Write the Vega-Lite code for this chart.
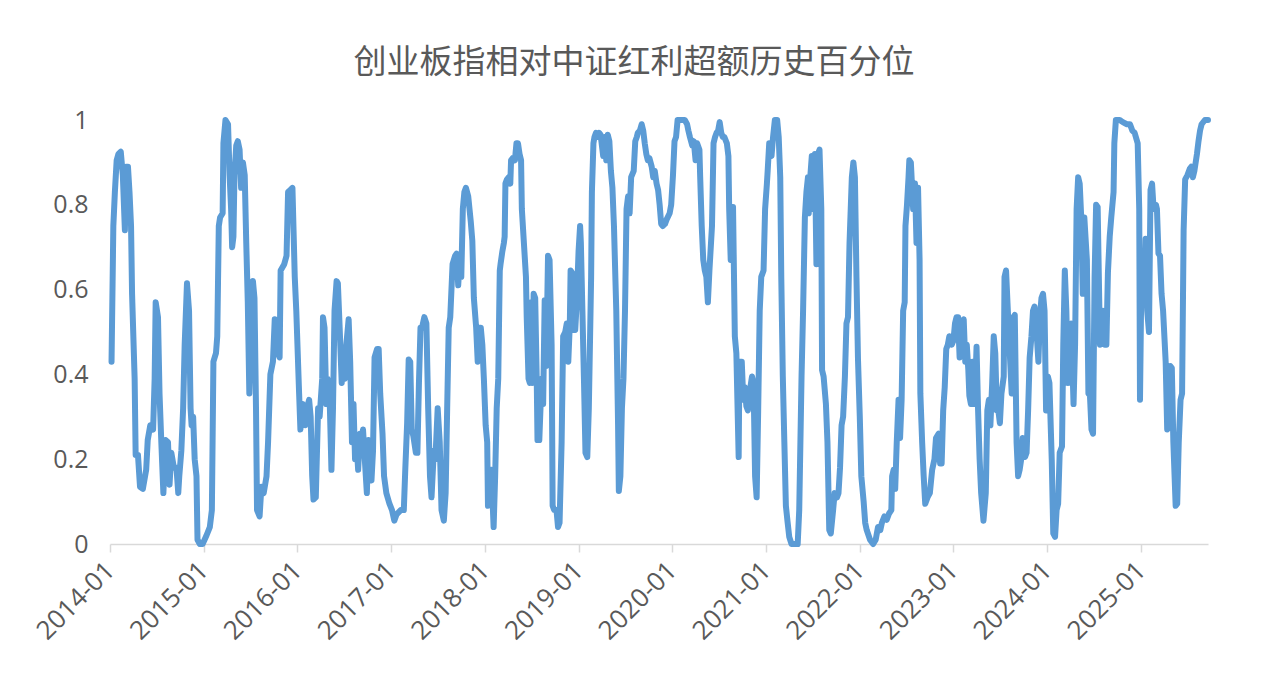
{
  "$schema": "https://vega.github.io/schema/vega-lite/v6.json",
  "width": 1098,
  "height": 424,
  "autosize": "none",
  "padding": {"left": 110, "top": 120, "right": 60, "bottom": 142},
  "background": "white",
  "config": {"view": {"stroke": null}},
  "title": {
    "text": "创业板指相对中证红利超额历史百分位",
    "font": "Noto Sans CJK SC",
    "fontSize": 33,
    "fontWeight": "normal",
    "color": "#595959",
    "anchor": "middle",
    "dx": -25,
    "offset": 28
  },
  "data": {
    "values": [
      {"date": "2014-01-07", "value": 0.43}, {"date": "2014-01-14", "value": 0.75}, {"date": "2014-01-20", "value": 0.83}, {"date": "2014-01-27", "value": 0.905},
      {"date": "2014-02-03", "value": 0.92}, {"date": "2014-02-12", "value": 0.925}, {"date": "2014-02-20", "value": 0.87}, {"date": "2014-02-28", "value": 0.74},
      {"date": "2014-03-05", "value": 0.89}, {"date": "2014-03-12", "value": 0.89}, {"date": "2014-03-18", "value": 0.83}, {"date": "2014-03-24", "value": 0.75},
      {"date": "2014-03-28", "value": 0.59}, {"date": "2014-04-07", "value": 0.39}, {"date": "2014-04-11", "value": 0.21}, {"date": "2014-04-20", "value": 0.21},
      {"date": "2014-04-28", "value": 0.135}, {"date": "2014-05-09", "value": 0.13}, {"date": "2014-05-22", "value": 0.175}, {"date": "2014-05-28", "value": 0.245},
      {"date": "2014-06-07", "value": 0.28}, {"date": "2014-06-18", "value": 0.27}, {"date": "2014-06-24", "value": 0.39}, {"date": "2014-06-28", "value": 0.57},
      {"date": "2014-07-07", "value": 0.535}, {"date": "2014-07-13", "value": 0.355}, {"date": "2014-07-20", "value": 0.24}, {"date": "2014-07-28", "value": 0.12},
      {"date": "2014-08-06", "value": 0.245}, {"date": "2014-08-15", "value": 0.24}, {"date": "2014-08-21", "value": 0.14}, {"date": "2014-08-28", "value": 0.215},
      {"date": "2014-09-07", "value": 0.18}, {"date": "2014-09-17", "value": 0.18}, {"date": "2014-09-24", "value": 0.12}, {"date": "2014-09-28", "value": 0.16},
      {"date": "2014-10-06", "value": 0.22}, {"date": "2014-10-13", "value": 0.32}, {"date": "2014-10-19", "value": 0.47}, {"date": "2014-10-28", "value": 0.615},
      {"date": "2014-11-05", "value": 0.55}, {"date": "2014-11-11", "value": 0.32}, {"date": "2014-11-15", "value": 0.28}, {"date": "2014-11-21", "value": 0.30},
      {"date": "2014-11-27", "value": 0.20}, {"date": "2014-12-04", "value": 0.16}, {"date": "2014-12-08", "value": 0.01}, {"date": "2014-12-17", "value": 0},
      {"date": "2014-12-28", "value": 0}, {"date": "2015-01-12", "value": 0.02}, {"date": "2015-01-25", "value": 0.04}, {"date": "2015-02-02", "value": 0.08},
      {"date": "2015-02-08", "value": 0.43}, {"date": "2015-02-18", "value": 0.45}, {"date": "2015-02-23", "value": 0.49}, {"date": "2015-03-01", "value": 0.75},
      {"date": "2015-03-06", "value": 0.77}, {"date": "2015-03-16", "value": 0.78}, {"date": "2015-03-19", "value": 0.945}, {"date": "2015-03-27", "value": 1.0},
      {"date": "2015-04-06", "value": 0.99}, {"date": "2015-04-12", "value": 0.87}, {"date": "2015-04-18", "value": 0.79}, {"date": "2015-04-22", "value": 0.70},
      {"date": "2015-04-27", "value": 0.725}, {"date": "2015-05-01", "value": 0.87}, {"date": "2015-05-08", "value": 0.94}, {"date": "2015-05-14", "value": 0.95},
      {"date": "2015-05-21", "value": 0.93}, {"date": "2015-05-27", "value": 0.84}, {"date": "2015-06-03", "value": 0.90}, {"date": "2015-06-10", "value": 0.87},
      {"date": "2015-06-16", "value": 0.71}, {"date": "2015-06-22", "value": 0.57}, {"date": "2015-06-28", "value": 0.355}, {"date": "2015-07-05", "value": 0.51},
      {"date": "2015-07-12", "value": 0.62}, {"date": "2015-07-18", "value": 0.58}, {"date": "2015-07-24", "value": 0.32}, {"date": "2015-07-28", "value": 0.08},
      {"date": "2015-08-07", "value": 0.065}, {"date": "2015-08-14", "value": 0.135}, {"date": "2015-08-23", "value": 0.12}, {"date": "2015-09-03", "value": 0.16},
      {"date": "2015-09-09", "value": 0.24}, {"date": "2015-09-18", "value": 0.40}, {"date": "2015-09-28", "value": 0.43}, {"date": "2015-10-05", "value": 0.53},
      {"date": "2015-10-11", "value": 0.46}, {"date": "2015-10-24", "value": 0.44}, {"date": "2015-10-28", "value": 0.645}, {"date": "2015-11-11", "value": 0.66},
      {"date": "2015-11-20", "value": 0.68}, {"date": "2015-11-26", "value": 0.83}, {"date": "2015-12-05", "value": 0.835}, {"date": "2015-12-13", "value": 0.84},
      {"date": "2015-12-22", "value": 0.63}, {"date": "2015-12-28", "value": 0.55}, {"date": "2016-01-08", "value": 0.355}, {"date": "2016-01-13", "value": 0.27},
      {"date": "2016-01-22", "value": 0.33}, {"date": "2016-02-01", "value": 0.28}, {"date": "2016-02-07", "value": 0.32}, {"date": "2016-02-16", "value": 0.34},
      {"date": "2016-02-22", "value": 0.30}, {"date": "2016-02-28", "value": 0.16}, {"date": "2016-03-04", "value": 0.105}, {"date": "2016-03-13", "value": 0.11},
      {"date": "2016-03-22", "value": 0.32}, {"date": "2016-03-28", "value": 0.30}, {"date": "2016-04-07", "value": 0.39}, {"date": "2016-04-10", "value": 0.535},
      {"date": "2016-04-16", "value": 0.51}, {"date": "2016-04-23", "value": 0.33}, {"date": "2016-04-28", "value": 0.39}, {"date": "2016-05-07", "value": 0.32},
      {"date": "2016-05-13", "value": 0.175}, {"date": "2016-05-19", "value": 0.32}, {"date": "2016-05-25", "value": 0.55}, {"date": "2016-06-02", "value": 0.62},
      {"date": "2016-06-07", "value": 0.615}, {"date": "2016-06-14", "value": 0.51}, {"date": "2016-06-22", "value": 0.38}, {"date": "2016-06-28", "value": 0.46},
      {"date": "2016-07-04", "value": 0.39}, {"date": "2016-07-10", "value": 0.47}, {"date": "2016-07-19", "value": 0.53}, {"date": "2016-07-25", "value": 0.43},
      {"date": "2016-08-01", "value": 0.24}, {"date": "2016-08-07", "value": 0.33}, {"date": "2016-08-13", "value": 0.20}, {"date": "2016-08-19", "value": 0.24},
      {"date": "2016-08-25", "value": 0.175}, {"date": "2016-09-01", "value": 0.26}, {"date": "2016-09-07", "value": 0.24}, {"date": "2016-09-13", "value": 0.27},
      {"date": "2016-09-20", "value": 0.20}, {"date": "2016-09-28", "value": 0.12}, {"date": "2016-10-04", "value": 0.245}, {"date": "2016-10-10", "value": 0.24},
      {"date": "2016-10-16", "value": 0.15}, {"date": "2016-10-22", "value": 0.22}, {"date": "2016-10-28", "value": 0.44}, {"date": "2016-11-07", "value": 0.46},
      {"date": "2016-11-13", "value": 0.46}, {"date": "2016-11-19", "value": 0.355}, {"date": "2016-11-28", "value": 0.26}, {"date": "2016-12-04", "value": 0.16},
      {"date": "2016-12-13", "value": 0.12}, {"date": "2016-12-25", "value": 0.095}, {"date": "2017-01-04", "value": 0.08}, {"date": "2017-01-13", "value": 0.055},
      {"date": "2017-01-22", "value": 0.07}, {"date": "2017-02-07", "value": 0.08}, {"date": "2017-02-19", "value": 0.08}, {"date": "2017-02-25", "value": 0.18},
      {"date": "2017-03-04", "value": 0.285}, {"date": "2017-03-10", "value": 0.435}, {"date": "2017-03-16", "value": 0.43}, {"date": "2017-03-22", "value": 0.27},
      {"date": "2017-03-28", "value": 0.255}, {"date": "2017-04-07", "value": 0.215}, {"date": "2017-04-13", "value": 0.215}, {"date": "2017-04-19", "value": 0.38},
      {"date": "2017-04-25", "value": 0.51}, {"date": "2017-05-01", "value": 0.51}, {"date": "2017-05-10", "value": 0.535}, {"date": "2017-05-18", "value": 0.52},
      {"date": "2017-05-25", "value": 0.32}, {"date": "2017-06-01", "value": 0.16}, {"date": "2017-06-07", "value": 0.11}, {"date": "2017-06-16", "value": 0.22},
      {"date": "2017-06-22", "value": 0.20}, {"date": "2017-07-01", "value": 0.32}, {"date": "2017-07-09", "value": 0.24}, {"date": "2017-07-16", "value": 0.08},
      {"date": "2017-07-25", "value": 0.055}, {"date": "2017-08-01", "value": 0.12}, {"date": "2017-08-07", "value": 0.32}, {"date": "2017-08-13", "value": 0.51},
      {"date": "2017-08-19", "value": 0.535}, {"date": "2017-08-28", "value": 0.66}, {"date": "2017-09-07", "value": 0.68}, {"date": "2017-09-13", "value": 0.685},
      {"date": "2017-09-19", "value": 0.61}, {"date": "2017-09-25", "value": 0.67}, {"date": "2017-10-01", "value": 0.63}, {"date": "2017-10-07", "value": 0.79},
      {"date": "2017-10-13", "value": 0.83}, {"date": "2017-10-19", "value": 0.84}, {"date": "2017-10-28", "value": 0.82}, {"date": "2017-11-07", "value": 0.76},
      {"date": "2017-11-13", "value": 0.715}, {"date": "2017-11-19", "value": 0.58}, {"date": "2017-11-28", "value": 0.51}, {"date": "2017-12-04", "value": 0.43},
      {"date": "2017-12-10", "value": 0.51}, {"date": "2017-12-16", "value": 0.51}, {"date": "2017-12-22", "value": 0.47}, {"date": "2017-12-28", "value": 0.39},
      {"date": "2018-01-04", "value": 0.28}, {"date": "2018-01-10", "value": 0.24}, {"date": "2018-01-13", "value": 0.09}, {"date": "2018-01-20", "value": 0.095},
      {"date": "2018-01-26", "value": 0.175}, {"date": "2018-02-04", "value": 0.04}, {"date": "2018-02-10", "value": 0.16}, {"date": "2018-02-16", "value": 0.32},
      {"date": "2018-02-22", "value": 0.39}, {"date": "2018-02-28", "value": 0.645}, {"date": "2018-03-03", "value": 0.66}, {"date": "2018-03-10", "value": 0.69},
      {"date": "2018-03-16", "value": 0.71}, {"date": "2018-03-19", "value": 0.725}, {"date": "2018-03-22", "value": 0.85}, {"date": "2018-03-28", "value": 0.86},
      {"date": "2018-04-04", "value": 0.865}, {"date": "2018-04-10", "value": 0.85}, {"date": "2018-04-13", "value": 0.905}, {"date": "2018-04-19", "value": 0.91},
      {"date": "2018-04-28", "value": 0.905}, {"date": "2018-05-04", "value": 0.945}, {"date": "2018-05-10", "value": 0.945}, {"date": "2018-05-16", "value": 0.92},
      {"date": "2018-05-22", "value": 0.905}, {"date": "2018-05-25", "value": 0.79}, {"date": "2018-06-04", "value": 0.69}, {"date": "2018-06-10", "value": 0.63},
      {"date": "2018-06-13", "value": 0.535}, {"date": "2018-06-20", "value": 0.39}, {"date": "2018-06-25", "value": 0.38}, {"date": "2018-07-01", "value": 0.57},
      {"date": "2018-07-04", "value": 0.38}, {"date": "2018-07-10", "value": 0.59}, {"date": "2018-07-16", "value": 0.58}, {"date": "2018-07-22", "value": 0.39},
      {"date": "2018-07-25", "value": 0.245}, {"date": "2018-08-01", "value": 0.245}, {"date": "2018-08-10", "value": 0.39}, {"date": "2018-08-16", "value": 0.33},
      {"date": "2018-08-22", "value": 0.575}, {"date": "2018-08-28", "value": 0.42}, {"date": "2018-09-04", "value": 0.68}, {"date": "2018-09-10", "value": 0.67},
      {"date": "2018-09-18", "value": 0.47}, {"date": "2018-09-22", "value": 0.09}, {"date": "2018-09-28", "value": 0.08}, {"date": "2018-10-07", "value": 0.08},
      {"date": "2018-10-13", "value": 0.04}, {"date": "2018-10-19", "value": 0.05}, {"date": "2018-10-27", "value": 0.24}, {"date": "2018-11-02", "value": 0.49},
      {"date": "2018-11-10", "value": 0.50}, {"date": "2018-11-16", "value": 0.52}, {"date": "2018-11-22", "value": 0.43}, {"date": "2018-11-28", "value": 0.52},
      {"date": "2018-12-01", "value": 0.645}, {"date": "2018-12-07", "value": 0.64}, {"date": "2018-12-13", "value": 0.505}, {"date": "2018-12-19", "value": 0.505},
      {"date": "2018-12-25", "value": 0.57}, {"date": "2019-01-01", "value": 0.69}, {"date": "2019-01-07", "value": 0.75}, {"date": "2019-01-10", "value": 0.71},
      {"date": "2019-01-16", "value": 0.55}, {"date": "2019-01-22", "value": 0.39}, {"date": "2019-01-28", "value": 0.215}, {"date": "2019-02-04", "value": 0.205},
      {"date": "2019-02-10", "value": 0.32}, {"date": "2019-02-19", "value": 0.63}, {"date": "2019-02-22", "value": 0.83}, {"date": "2019-02-28", "value": 0.945},
      {"date": "2019-03-04", "value": 0.96}, {"date": "2019-03-10", "value": 0.97}, {"date": "2019-03-16", "value": 0.96}, {"date": "2019-03-22", "value": 0.97},
      {"date": "2019-03-28", "value": 0.965}, {"date": "2019-04-07", "value": 0.915}, {"date": "2019-04-13", "value": 0.96}, {"date": "2019-04-19", "value": 0.905},
      {"date": "2019-04-25", "value": 0.965}, {"date": "2019-05-01", "value": 0.95}, {"date": "2019-05-07", "value": 0.88}, {"date": "2019-05-13", "value": 0.84},
      {"date": "2019-05-19", "value": 0.75}, {"date": "2019-05-28", "value": 0.55}, {"date": "2019-06-04", "value": 0.28}, {"date": "2019-06-07", "value": 0.125},
      {"date": "2019-06-13", "value": 0.16}, {"date": "2019-06-19", "value": 0.32}, {"date": "2019-06-25", "value": 0.39}, {"date": "2019-07-01", "value": 0.55},
      {"date": "2019-07-07", "value": 0.79}, {"date": "2019-07-13", "value": 0.82}, {"date": "2019-07-19", "value": 0.78}, {"date": "2019-07-25", "value": 0.865},
      {"date": "2019-08-04", "value": 0.88}, {"date": "2019-08-10", "value": 0.95}, {"date": "2019-08-16", "value": 0.96}, {"date": "2019-08-20", "value": 0.97},
      {"date": "2019-08-28", "value": 0.975}, {"date": "2019-09-04", "value": 0.99}, {"date": "2019-09-10", "value": 0.975}, {"date": "2019-09-16", "value": 0.945},
      {"date": "2019-09-22", "value": 0.92}, {"date": "2019-09-28", "value": 0.905}, {"date": "2019-10-04", "value": 0.91}, {"date": "2019-10-13", "value": 0.89},
      {"date": "2019-10-19", "value": 0.865}, {"date": "2019-10-25", "value": 0.88}, {"date": "2019-11-01", "value": 0.85}, {"date": "2019-11-07", "value": 0.835},
      {"date": "2019-11-13", "value": 0.80}, {"date": "2019-11-19", "value": 0.755}, {"date": "2019-11-25", "value": 0.75}, {"date": "2019-12-04", "value": 0.755},
      {"date": "2019-12-10", "value": 0.765}, {"date": "2019-12-22", "value": 0.78}, {"date": "2019-12-28", "value": 0.80}, {"date": "2020-01-04", "value": 0.87},
      {"date": "2020-01-10", "value": 0.95}, {"date": "2020-01-16", "value": 0.96}, {"date": "2020-01-22", "value": 1.0}, {"date": "2020-02-07", "value": 1.0},
      {"date": "2020-02-19", "value": 1.0}, {"date": "2020-02-28", "value": 0.99}, {"date": "2020-03-04", "value": 0.975}, {"date": "2020-03-10", "value": 0.96},
      {"date": "2020-03-19", "value": 0.94}, {"date": "2020-03-25", "value": 0.95}, {"date": "2020-04-01", "value": 0.905}, {"date": "2020-04-07", "value": 0.945},
      {"date": "2020-04-16", "value": 0.93}, {"date": "2020-04-19", "value": 0.865}, {"date": "2020-04-25", "value": 0.75}, {"date": "2020-05-01", "value": 0.67},
      {"date": "2020-05-07", "value": 0.645}, {"date": "2020-05-13", "value": 0.63}, {"date": "2020-05-19", "value": 0.57}, {"date": "2020-05-25", "value": 0.645},
      {"date": "2020-06-04", "value": 0.75}, {"date": "2020-06-10", "value": 0.945}, {"date": "2020-06-16", "value": 0.96}, {"date": "2020-06-22", "value": 0.97},
      {"date": "2020-06-28", "value": 0.975}, {"date": "2020-07-04", "value": 0.995}, {"date": "2020-07-10", "value": 0.97}, {"date": "2020-07-16", "value": 0.96},
      {"date": "2020-07-22", "value": 0.96}, {"date": "2020-08-01", "value": 0.945}, {"date": "2020-08-07", "value": 0.915}, {"date": "2020-08-10", "value": 0.79},
      {"date": "2020-08-16", "value": 0.67}, {"date": "2020-08-19", "value": 0.795}, {"date": "2020-08-25", "value": 0.795}, {"date": "2020-09-01", "value": 0.49},
      {"date": "2020-09-07", "value": 0.45}, {"date": "2020-09-16", "value": 0.205}, {"date": "2020-09-19", "value": 0.43}, {"date": "2020-09-28", "value": 0.43},
      {"date": "2020-10-04", "value": 0.34}, {"date": "2020-10-10", "value": 0.37}, {"date": "2020-10-16", "value": 0.325}, {"date": "2020-10-22", "value": 0.315},
      {"date": "2020-10-28", "value": 0.355}, {"date": "2020-11-07", "value": 0.395}, {"date": "2020-11-13", "value": 0.38}, {"date": "2020-11-19", "value": 0.16},
      {"date": "2020-11-25", "value": 0.11}, {"date": "2020-12-01", "value": 0.315}, {"date": "2020-12-07", "value": 0.55}, {"date": "2020-12-13", "value": 0.63},
      {"date": "2020-12-22", "value": 0.645}, {"date": "2020-12-28", "value": 0.79}, {"date": "2021-01-04", "value": 0.85}, {"date": "2021-01-07", "value": 0.88},
      {"date": "2021-01-13", "value": 0.945}, {"date": "2021-01-19", "value": 0.92}, {"date": "2021-01-22", "value": 0.915}, {"date": "2021-01-28", "value": 0.96},
      {"date": "2021-02-04", "value": 1.0}, {"date": "2021-02-13", "value": 1.0}, {"date": "2021-02-19", "value": 0.96}, {"date": "2021-02-25", "value": 0.865},
      {"date": "2021-03-01", "value": 0.63}, {"date": "2021-03-07", "value": 0.395}, {"date": "2021-03-13", "value": 0.24}, {"date": "2021-03-19", "value": 0.09},
      {"date": "2021-03-25", "value": 0.055}, {"date": "2021-04-01", "value": 0.017}, {"date": "2021-04-10", "value": 0}, {"date": "2021-04-22", "value": 0},
      {"date": "2021-05-04", "value": 0}, {"date": "2021-05-10", "value": 0.08}, {"date": "2021-05-19", "value": 0.395}, {"date": "2021-05-25", "value": 0.55},
      {"date": "2021-06-01", "value": 0.77}, {"date": "2021-06-07", "value": 0.83}, {"date": "2021-06-13", "value": 0.865}, {"date": "2021-06-16", "value": 0.78},
      {"date": "2021-06-22", "value": 0.865}, {"date": "2021-06-28", "value": 0.915}, {"date": "2021-07-04", "value": 0.79}, {"date": "2021-07-10", "value": 0.92},
      {"date": "2021-07-16", "value": 0.66}, {"date": "2021-07-22", "value": 0.92}, {"date": "2021-07-28", "value": 0.93}, {"date": "2021-08-04", "value": 0.79},
      {"date": "2021-08-07", "value": 0.41}, {"date": "2021-08-13", "value": 0.395}, {"date": "2021-08-22", "value": 0.33}, {"date": "2021-08-28", "value": 0.24},
      {"date": "2021-09-04", "value": 0.033}, {"date": "2021-09-10", "value": 0.025}, {"date": "2021-09-19", "value": 0.08}, {"date": "2021-09-25", "value": 0.12},
      {"date": "2021-10-04", "value": 0.11}, {"date": "2021-10-10", "value": 0.12}, {"date": "2021-10-16", "value": 0.18}, {"date": "2021-10-22", "value": 0.28},
      {"date": "2021-10-28", "value": 0.30}, {"date": "2021-11-04", "value": 0.395}, {"date": "2021-11-10", "value": 0.52}, {"date": "2021-11-16", "value": 0.535},
      {"date": "2021-11-22", "value": 0.71}, {"date": "2021-12-01", "value": 0.865}, {"date": "2021-12-07", "value": 0.90}, {"date": "2021-12-13", "value": 0.865},
      {"date": "2021-12-19", "value": 0.63}, {"date": "2021-12-25", "value": 0.435}, {"date": "2022-01-01", "value": 0.30}, {"date": "2022-01-07", "value": 0.16},
      {"date": "2022-01-16", "value": 0.10}, {"date": "2022-01-22", "value": 0.05}, {"date": "2022-01-28", "value": 0.033}, {"date": "2022-02-10", "value": 0.01},
      {"date": "2022-02-22", "value": 0}, {"date": "2022-03-04", "value": 0.01}, {"date": "2022-03-13", "value": 0.04}, {"date": "2022-03-22", "value": 0.033},
      {"date": "2022-03-28", "value": 0.05}, {"date": "2022-04-07", "value": 0.065}, {"date": "2022-04-16", "value": 0.057}, {"date": "2022-04-25", "value": 0.072},
      {"date": "2022-05-04", "value": 0.08}, {"date": "2022-05-07", "value": 0.16}, {"date": "2022-05-13", "value": 0.175}, {"date": "2022-05-19", "value": 0.13},
      {"date": "2022-05-25", "value": 0.24}, {"date": "2022-06-01", "value": 0.34}, {"date": "2022-06-07", "value": 0.25}, {"date": "2022-06-13", "value": 0.34},
      {"date": "2022-06-19", "value": 0.55}, {"date": "2022-06-25", "value": 0.57}, {"date": "2022-06-28", "value": 0.75}, {"date": "2022-07-04", "value": 0.80},
      {"date": "2022-07-10", "value": 0.865}, {"date": "2022-07-13", "value": 0.905}, {"date": "2022-07-19", "value": 0.90}, {"date": "2022-07-28", "value": 0.79},
      {"date": "2022-08-04", "value": 0.85}, {"date": "2022-08-10", "value": 0.71}, {"date": "2022-08-16", "value": 0.84}, {"date": "2022-08-22", "value": 0.67},
      {"date": "2022-08-25", "value": 0.355}, {"date": "2022-09-01", "value": 0.24}, {"date": "2022-09-07", "value": 0.16}, {"date": "2022-09-13", "value": 0.095},
      {"date": "2022-09-22", "value": 0.11}, {"date": "2022-10-01", "value": 0.12}, {"date": "2022-10-10", "value": 0.175}, {"date": "2022-10-19", "value": 0.20},
      {"date": "2022-10-25", "value": 0.25}, {"date": "2022-11-04", "value": 0.26}, {"date": "2022-11-10", "value": 0.19}, {"date": "2022-11-16", "value": 0.19},
      {"date": "2022-11-22", "value": 0.315}, {"date": "2022-11-28", "value": 0.37}, {"date": "2022-12-04", "value": 0.46}, {"date": "2022-12-10", "value": 0.47},
      {"date": "2022-12-16", "value": 0.49}, {"date": "2022-12-25", "value": 0.47}, {"date": "2023-01-01", "value": 0.48}, {"date": "2023-01-07", "value": 0.52},
      {"date": "2023-01-13", "value": 0.535}, {"date": "2023-01-19", "value": 0.535}, {"date": "2023-01-25", "value": 0.44}, {"date": "2023-02-01", "value": 0.49},
      {"date": "2023-02-10", "value": 0.53}, {"date": "2023-02-16", "value": 0.43}, {"date": "2023-02-22", "value": 0.47}, {"date": "2023-02-28", "value": 0.41},
      {"date": "2023-03-04", "value": 0.35}, {"date": "2023-03-10", "value": 0.33}, {"date": "2023-03-16", "value": 0.43}, {"date": "2023-03-25", "value": 0.33},
      {"date": "2023-04-01", "value": 0.465}, {"date": "2023-04-07", "value": 0.315}, {"date": "2023-04-13", "value": 0.20}, {"date": "2023-04-19", "value": 0.12},
      {"date": "2023-04-28", "value": 0.055}, {"date": "2023-05-07", "value": 0.12}, {"date": "2023-05-13", "value": 0.315}, {"date": "2023-05-19", "value": 0.34},
      {"date": "2023-05-25", "value": 0.28}, {"date": "2023-06-01", "value": 0.38}, {"date": "2023-06-07", "value": 0.49}, {"date": "2023-06-13", "value": 0.45},
      {"date": "2023-06-19", "value": 0.315}, {"date": "2023-06-25", "value": 0.315}, {"date": "2023-07-01", "value": 0.285}, {"date": "2023-07-07", "value": 0.355},
      {"date": "2023-07-16", "value": 0.395}, {"date": "2023-07-19", "value": 0.63}, {"date": "2023-07-25", "value": 0.645}, {"date": "2023-08-01", "value": 0.55},
      {"date": "2023-08-07", "value": 0.47}, {"date": "2023-08-16", "value": 0.355}, {"date": "2023-08-22", "value": 0.535}, {"date": "2023-08-28", "value": 0.54},
      {"date": "2023-09-04", "value": 0.24}, {"date": "2023-09-10", "value": 0.16}, {"date": "2023-09-16", "value": 0.175}, {"date": "2023-09-22", "value": 0.20},
      {"date": "2023-09-28", "value": 0.25}, {"date": "2023-10-07", "value": 0.205}, {"date": "2023-10-13", "value": 0.215}, {"date": "2023-10-19", "value": 0.315},
      {"date": "2023-10-25", "value": 0.44}, {"date": "2023-11-01", "value": 0.49}, {"date": "2023-11-07", "value": 0.55}, {"date": "2023-11-13", "value": 0.56},
      {"date": "2023-11-22", "value": 0.49}, {"date": "2023-11-28", "value": 0.43}, {"date": "2023-12-04", "value": 0.535}, {"date": "2023-12-10", "value": 0.58},
      {"date": "2023-12-16", "value": 0.59}, {"date": "2023-12-22", "value": 0.55}, {"date": "2023-12-28", "value": 0.315}, {"date": "2024-01-04", "value": 0.395},
      {"date": "2024-01-10", "value": 0.38}, {"date": "2024-01-19", "value": 0.20}, {"date": "2024-01-25", "value": 0.025}, {"date": "2024-02-01", "value": 0.017},
      {"date": "2024-02-07", "value": 0.08}, {"date": "2024-02-13", "value": 0.095}, {"date": "2024-02-19", "value": 0.215}, {"date": "2024-02-28", "value": 0.23},
      {"date": "2024-03-04", "value": 0.47}, {"date": "2024-03-10", "value": 0.645}, {"date": "2024-03-16", "value": 0.55}, {"date": "2024-03-22", "value": 0.38},
      {"date": "2024-03-28", "value": 0.51}, {"date": "2024-04-04", "value": 0.52}, {"date": "2024-04-13", "value": 0.33}, {"date": "2024-04-19", "value": 0.47},
      {"date": "2024-04-25", "value": 0.79}, {"date": "2024-05-01", "value": 0.865}, {"date": "2024-05-07", "value": 0.85}, {"date": "2024-05-13", "value": 0.77},
      {"date": "2024-05-19", "value": 0.59}, {"date": "2024-05-25", "value": 0.77}, {"date": "2024-06-04", "value": 0.67}, {"date": "2024-06-10", "value": 0.355},
      {"date": "2024-06-16", "value": 0.35}, {"date": "2024-06-22", "value": 0.27}, {"date": "2024-06-28", "value": 0.26}, {"date": "2024-07-04", "value": 0.63},
      {"date": "2024-07-10", "value": 0.80}, {"date": "2024-07-16", "value": 0.795}, {"date": "2024-07-25", "value": 0.47}, {"date": "2024-08-01", "value": 0.535},
      {"date": "2024-08-07", "value": 0.55}, {"date": "2024-08-13", "value": 0.47}, {"date": "2024-08-19", "value": 0.47}, {"date": "2024-08-25", "value": 0.64},
      {"date": "2024-09-01", "value": 0.725}, {"date": "2024-09-07", "value": 0.77}, {"date": "2024-09-16", "value": 0.83}, {"date": "2024-09-19", "value": 0.945},
      {"date": "2024-09-25", "value": 1.0}, {"date": "2024-10-10", "value": 1.0}, {"date": "2024-10-22", "value": 0.995}, {"date": "2024-11-07", "value": 0.99},
      {"date": "2024-11-19", "value": 0.99}, {"date": "2024-11-28", "value": 0.975}, {"date": "2024-12-07", "value": 0.97}, {"date": "2024-12-19", "value": 0.945},
      {"date": "2024-12-25", "value": 0.79}, {"date": "2024-12-28", "value": 0.34}, {"date": "2025-01-01", "value": 0.55}, {"date": "2025-01-07", "value": 0.69},
      {"date": "2025-01-13", "value": 0.58}, {"date": "2025-01-19", "value": 0.72}, {"date": "2025-01-25", "value": 0.55}, {"date": "2025-02-01", "value": 0.50},
      {"date": "2025-02-07", "value": 0.835}, {"date": "2025-02-13", "value": 0.85}, {"date": "2025-02-19", "value": 0.79}, {"date": "2025-02-28", "value": 0.80},
      {"date": "2025-03-04", "value": 0.79}, {"date": "2025-03-10", "value": 0.685}, {"date": "2025-03-16", "value": 0.68}, {"date": "2025-03-22", "value": 0.59},
      {"date": "2025-03-28", "value": 0.55}, {"date": "2025-04-07", "value": 0.43}, {"date": "2025-04-13", "value": 0.27}, {"date": "2025-04-19", "value": 0.275},
      {"date": "2025-04-25", "value": 0.42}, {"date": "2025-05-01", "value": 0.415}, {"date": "2025-05-07", "value": 0.24}, {"date": "2025-05-16", "value": 0.09},
      {"date": "2025-05-22", "value": 0.095}, {"date": "2025-05-28", "value": 0.24}, {"date": "2025-06-04", "value": 0.34}, {"date": "2025-06-10", "value": 0.355},
      {"date": "2025-06-16", "value": 0.74}, {"date": "2025-06-22", "value": 0.86}, {"date": "2025-07-01", "value": 0.87}, {"date": "2025-07-10", "value": 0.885},
      {"date": "2025-07-16", "value": 0.89}, {"date": "2025-07-22", "value": 0.865}, {"date": "2025-07-28", "value": 0.88}, {"date": "2025-08-07", "value": 0.92},
      {"date": "2025-08-13", "value": 0.95}, {"date": "2025-08-19", "value": 0.975}, {"date": "2025-08-25", "value": 0.99}, {"date": "2025-09-07", "value": 1.0},
      {"date": "2025-09-19", "value": 1.0}
    ]
  },
  "mark": {
    "type": "line",
    "color": "#5B9BD5",
    "strokeWidth": 6,
    "strokeJoin": "round",
    "strokeCap": "round",
    "clip": false
  },
  "encoding": {
    "x": {
      "field": "date",
      "type": "temporal",
      "scale": {"domain": ["2014-01-01", "2025-09-19"]},
      "axis": {
        "title": null,
        "format": "%Y-%m",
        "tickCount": {"interval": "year", "step": 1},
        "grid": false,
        "labelAngle": -45,
        "labelAlign": "right",
        "labelBaseline": "middle",
        "labelPadding": 14,
        "labelFont": "Open Sans",
        "labelFontSize": 26,
        "labelColor": "#595959",
        "labelOverlap": false,
        "domainColor": "#d9d9d9",
        "domainWidth": 1.5,
        "tickColor": "#d9d9d9",
        "tickWidth": 1.5,
        "tickSize": 8
      }
    },
    "y": {
      "field": "value",
      "type": "quantitative",
      "scale": {"domain": [0, 1], "nice": false},
      "axis": {
        "title": null,
        "values": [0, 0.2, 0.4, 0.6, 0.8, 1],
        "format": ".1~f",
        "grid": false,
        "domain": false,
        "ticks": false,
        "labelPadding": 22,
        "labelFont": "Open Sans",
        "labelFontSize": 25,
        "labelColor": "#595959"
      }
    }
  }
}
